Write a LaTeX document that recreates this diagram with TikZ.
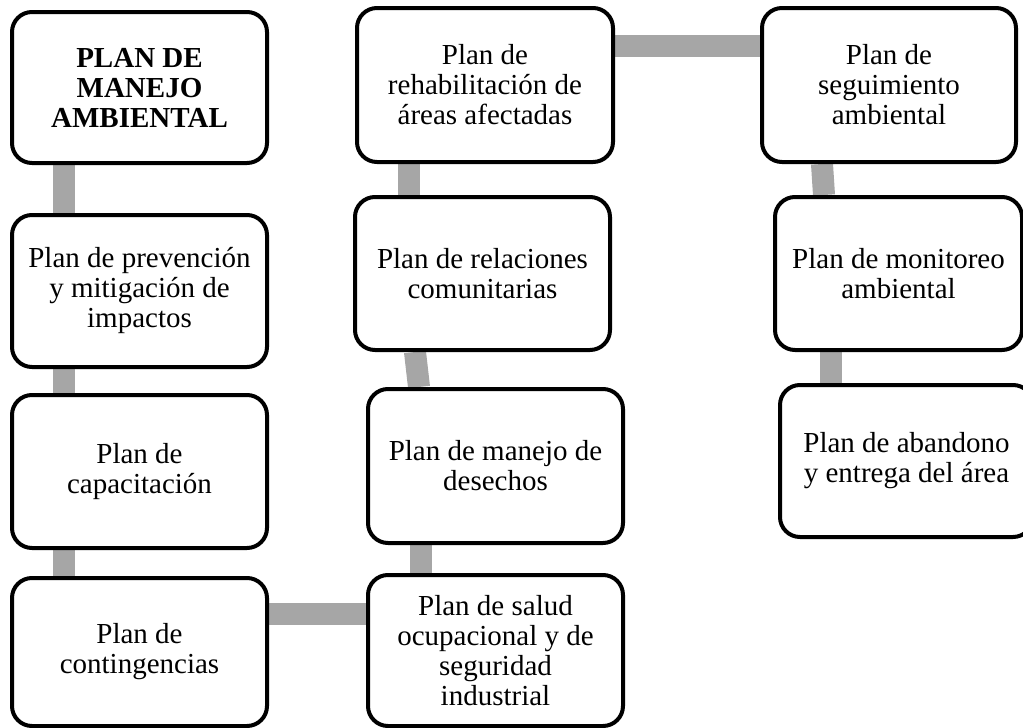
\documentclass[tikz,border=0pt]{standalone}
\usepackage{fontspec}
\setmainfont{Liberation Serif}
\pgfdeclarelayer{background}
\pgfsetlayers{background,main}
\definecolor{conngray}{RGB}{166,166,166}
\tikzset{
  box/.style={draw=black, line width=4pt, fill=white, rounded corners=20pt,
    rectangle, inner sep=0pt, align=center,
    font=\fontsize{29pt}{30pt}\selectfont},
  conn/.style={draw=conngray, line width=22pt, line cap=butt}
}
\begin{document}
\begin{tikzpicture}[x=1pt,y=1pt]
\useasboundingbox (0,0) rectangle (1023,-728);
% left column
\node[box, minimum width=255pt, minimum height=151pt] (plan) at (139.5,-87.5) {\textbf{PLAN DE}\\\textbf{MANEJO}\\\textbf{AMBIENTAL}};
\node[box, minimum width=255pt, minimum height=152pt] (prev) at (139.5,-291) {Plan de prevención\\y mitigación de\\impactos};
\node[box, minimum width=255pt, minimum height=153pt] (cap) at (139.5,-471.5) {Plan de\\capacitación};
\node[box, minimum width=255pt, minimum height=148pt] (cont) at (139.5,-652) {Plan de\\contingencias};
% middle column
\node[box, minimum width=256pt, minimum height=154pt] (rehab) at (485,-85) {Plan de\\rehabilitación de\\áreas afectadas};
\node[box, minimum width=255pt, minimum height=153pt] (rel) at (482.5,-273.5) {Plan de relaciones\\comunitarias};
\node[box, minimum width=255pt, minimum height=154pt] (des) at (495.5,-466) {Plan de manejo de\\desechos};
\node[box, minimum width=255pt, minimum height=151pt] (salud) at (495.5,-650.5) {Plan de salud\\ocupacional y de\\seguridad\\industrial};
% right column
\node[box, minimum width=254pt, minimum height=154pt] (seg) at (889,-85) {Plan de\\seguimiento\\ambiental};
\node[box, minimum width=247pt, minimum height=153pt] (mon) at (898.5,-273.5) {Plan de monitoreo\\ambiental};
\node[box, minimum width=253pt, minimum height=152pt] (aband) at (906.5,-461) {Plan de abandono\\y entrega del área};
% connectors
\begin{pgfonlayer}{background}
\draw[conn] ([xshift=-75.5pt]plan.south) -- ([xshift=-75.5pt]prev.north);
\draw[conn] ([xshift=-75.5pt]prev.south) -- ([xshift=-75.5pt]cap.north);
\draw[conn] ([xshift=-75.5pt]cap.south) -- ([xshift=-75.5pt]cont.north);
\draw[conn] ([yshift=38pt]cont.east) -- ([yshift=36.5pt]salud.west);
\draw[conn] ([xshift=-74.5pt]salud.north) -- ([xshift=-74.5pt]des.south);
\draw[conn] ([xshift=-76.5pt]des.north) -- ([xshift=-67.5pt]rel.south);
\draw[conn] ([xshift=-74pt]rel.north) -- ([xshift=-76.5pt]rehab.south);
\draw[conn] ([yshift=39pt]rehab.east) -- ([yshift=39pt]seg.west);
\draw[conn] ([xshift=-67pt]seg.south) -- ([xshift=-74.5pt]mon.north);
\draw[conn] ([xshift=-68pt]mon.south) -- ([xshift=-76pt]aband.north);
\end{pgfonlayer}
\end{tikzpicture}
\end{document}
